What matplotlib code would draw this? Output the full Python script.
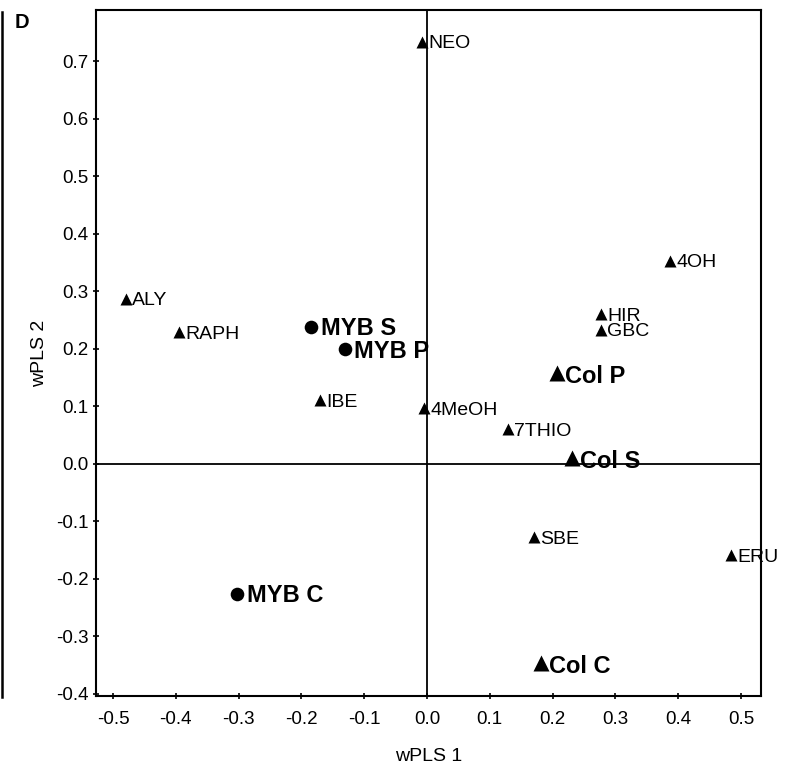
import matplotlib
matplotlib.use("Agg")
import matplotlib.pyplot as plt
from matplotlib.lines import Line2D

plt.rcParams['font.family'] = ['Liberation Sans', 'DejaVu Sans']
plt.rcParams['axes.unicode_minus'] = False

# Variables (small triangles)
var_names = ["NEO", "ALY", "RAPH", "IBE", "4MeOH", "7THIO", "4OH", "HIR", "GBC", "SBE", "ERU"]
var_x = [-0.008, -0.479, -0.395, -0.170, -0.005, 0.129, 0.387, 0.277, 0.277, 0.171, 0.484]
var_y = [0.734, 0.287, 0.229, 0.110, 0.096, 0.060, 0.353, 0.260, 0.233, -0.128, -0.159]

# Col samples (large triangles)
col_names = ["Col P", "Col S", "Col C"]
col_x = [0.207, 0.231, 0.182]
col_y = [0.158, 0.009, -0.347]

# MYB samples (circles)
myb_names = ["MYB S", "MYB P", "MYB C"]
myb_x = [-0.184, -0.131, -0.302]
myb_y = [0.238, 0.199, -0.226]

x_ticks = [-0.5, -0.4, -0.3, -0.2, -0.1, 0.0, 0.1, 0.2, 0.3, 0.4, 0.5]
y_ticks = [-0.4, -0.3, -0.2, -0.1, 0.0, 0.1, 0.2, 0.3, 0.4, 0.5, 0.6, 0.7]

fig = plt.figure(figsize=(7.87, 7.69), dpi=100)
ax = fig.add_axes([0.122, 0.095, 0.845, 0.892])

ax.axhline(0, color='black', lw=1.3, zorder=1)
ax.axvline(0, color='black', lw=1.3, zorder=1)

ax.plot(var_x, var_y, linestyle='none', marker='^', ms=8.6, color='black', mec='none', zorder=3)
ax.plot(col_x, col_y, linestyle='none', marker='^', ms=12, color='black', mec='none', zorder=3)
ax.plot(myb_x, myb_y, linestyle='none', marker='o', ms=9.8, color='black', mec='none', zorder=3)

for n, x, y in zip(var_names, var_x, var_y):
    ax.annotate(n, (x, y), xytext=(4.5, -4.8), textcoords='offset points',
                ha='left', va='baseline', fontsize=14, annotation_clip=False, clip_on=False)
for n, x, y in zip(col_names, col_x, col_y):
    ax.annotate(n, (x, y), xytext=(5.5, -7.0), textcoords='offset points',
                ha='left', va='baseline', fontsize=17, fontweight='bold', annotation_clip=False)
for n, x, y in zip(myb_names, myb_x, myb_y):
    ax.annotate(n, (x, y), xytext=(7.0, -6.0), textcoords='offset points',
                ha='left', va='baseline', fontsize=17, fontweight='bold', annotation_clip=False)

ax.set_xlim(-0.527, 0.532)
ax.set_ylim(-0.404, 0.789)
ax.set_xticks(x_ticks)
ax.set_yticks(y_ticks)
ax.set_xticklabels([f"{v:.1f}" for v in x_ticks])
ax.set_yticklabels([f"{v:.1f}" for v in y_ticks])
ax.tick_params(direction='inout', length=5, width=1.2, labelsize=13.5, colors='black')
ax.tick_params(axis='x', pad=8)
ax.tick_params(axis='y', pad=3)
for s in ax.spines.values():
    s.set_linewidth(1.5)

ax.set_xlabel("wPLS 1", fontsize=14, labelpad=15)
ax.set_ylabel("wPLS 2", fontsize=14, labelpad=5.5)

fig.add_artist(Line2D([0.002, 0.002], [0.094, 0.984], color='black', lw=1.8, transform=fig.transFigure))
fig.text(0.019, 0.9636, "D", fontsize=14.5, fontweight='bold', ha='left', va='baseline')

fig.savefig("out.png", dpi=100)
